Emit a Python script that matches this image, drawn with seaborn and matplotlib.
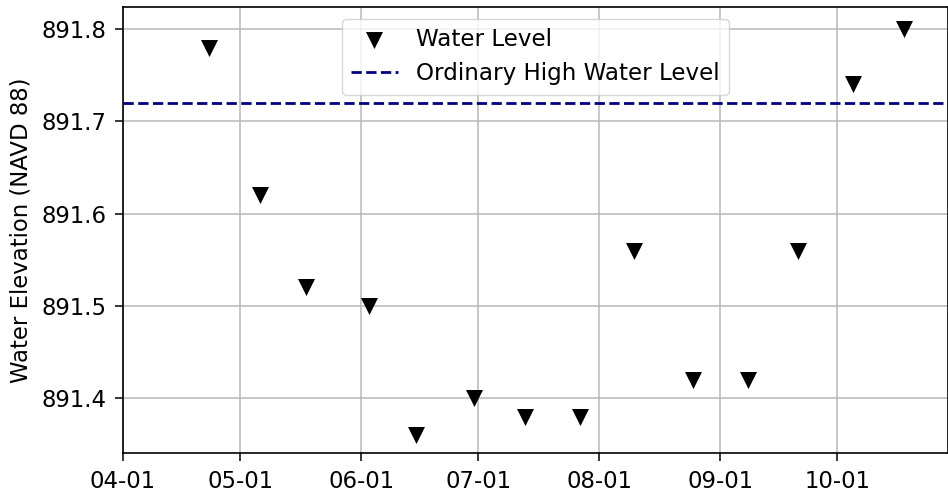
import matplotlib
matplotlib.use("Agg")
import matplotlib.pyplot as plt
import matplotlib.dates as mdates
import pandas as pd
import seaborn as sns

# Survey dates and measured water surface elevations
dates = ["2019-04-23", "2019-05-06", "2019-05-18", "2019-06-03", "2019-06-15",
         "2019-06-30", "2019-07-13", "2019-07-27", "2019-08-10", "2019-08-25",
         "2019-09-08", "2019-09-21", "2019-10-05", "2019-10-18"]
levels = [891.78, 891.62, 891.52, 891.50, 891.36,
          891.40, 891.38, 891.38, 891.56, 891.42,
          891.42, 891.56, 891.74, 891.80]
ohwl = 891.72

df = pd.DataFrame({"date": pd.to_datetime(dates), "level": levels})

sns.set_style("ticks", {"axes.grid": True, "grid.color": "#b0b0b0",
                        "axes.edgecolor": "black", "xtick.color": "black",
                        "ytick.color": "black", "text.color": "black",
                        "axes.labelcolor": "black"})
plt.rcParams["font.family"] = ["DejaVu Sans"]
plt.rcParams["font.size"] = 16.4

fig = plt.figure(figsize=(9.48, 4.95), dpi=100)
ax = fig.add_axes([123 / 948, 1 - 453 / 495, 1 - 123 / 948, (453 - 7) / 495])

sns.scatterplot(data=df, x="date", y="level", marker="v", s=150, color="black",
                linewidth=0, ax=ax, label="Water Level", zorder=3)
ax.axhline(ohwl, color="navy", linestyle="--", linewidth=2,
           label="Ordinary High Water Level")

ax.set_xlim(pd.Timestamp("2019-04-01"), pd.Timestamp("2019-10-29 08:00"))
ax.set_ylim(891.3405, 891.824)
ax.xaxis.set_major_locator(mdates.MonthLocator())
ax.xaxis.set_major_formatter(mdates.DateFormatter("%m-%d"))
ax.set_yticks([891.4, 891.5, 891.6, 891.7, 891.8])
ax.yaxis.set_major_formatter(matplotlib.ticker.FormatStrFormatter("%.1f"))

ax.grid(True, color="#b8b8b8", linewidth=1.1)
ax.tick_params(axis="both", labelsize=16.4, length=6, width=1.1,
               direction="out", pad=6)
for s in ax.spines.values():
    s.set_linewidth(1.2)
    s.set_color("black")

ax.set_xlabel("")
ax.set_ylabel("Water Elevation (NAVD 88)", fontsize=16.4, labelpad=6)

ax.legend(loc="upper center", fontsize=16.6, frameon=True, framealpha=0.8,
          edgecolor="#cccccc", fancybox=True)

fig.savefig("out.png", dpi=100)
